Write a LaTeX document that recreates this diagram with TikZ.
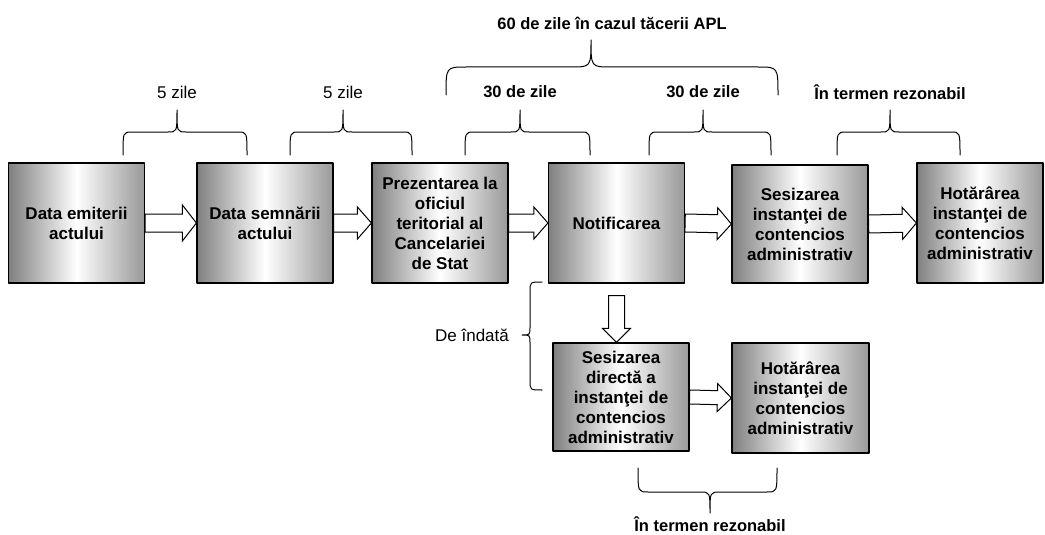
\documentclass[tikz,border=0pt]{standalone}
\usepackage{fontspec}
\setmainfont{Liberation Sans}
\usetikzlibrary{calc}
\tikzset{
  stage/.style={draw, line width=1.2pt, left color=black!50, right color=black!40, middle color=white,
    minimum width=136pt, minimum height=120pt, inner sep=2pt, align=center,
    font=\fontsize{17}{20}\selectfont\bfseries},
  brace/.style={line width=1pt},
  hollow/.style={draw, fill=white, line width=1pt, line join=miter},
  lbl/.style={font=\fontsize{16.5}{20}\selectfont\bfseries},
  plainlbl/.style={font=\fontsize{17}{20}\selectfont},
}
% hollow block arrow: start, end, shaft half width, head half width
\newcommand{\hollowarrow}[4]{%
  \coordinate (h) at ($(#2)!14pt!(#1)$);
  \draw[hollow] ($(#1)!#3pt!90:(#2)$) -- ($(h)!#3pt!90:(#2)$) -- ($(h)!#4pt!90:(#2)$) -- (#2)
    -- ($(h)!#4pt!-90:(#2)$) -- ($(h)!#3pt!-90:(#2)$) -- ($(#1)!#3pt!-90:(#2)$) -- cycle;}
% horizontal brace: x1, tip x, x2, y ends, y flat, y tip, radius
\newcommand{\hbrace}[7]{%
  \draw[brace] (#1,#4) .. controls (#1,#5) .. (#1+#7,#5) -- (#2-#7,#5) .. controls (#2,#5) .. (#2,#6)
    .. controls (#2,#5) .. (#2+#7,#5) -- (#3-#7,#5) .. controls (#3,#5) .. (#3,#4);}
\begin{document}
\begin{tikzpicture}[x=1pt, y=-1pt, line join=round, line cap=round]
\useasboundingbox (0,0) rectangle (1045,535);
% main row
\node[stage] (emit) at (76.5,223) {Data emiterii\\actului};
\node[stage] (semn) at (265,223) {Data semnării\\actului};
\node[stage] (prez) at (440,223) {Prezentarea la\\oficiul\\teritorial al\\Cancelariei\\de Stat};
\node[stage] (noti) at (616.5,223) {Notificarea};
\node[stage, minimum height=118pt] (sesi) at (800,224) {Sesizarea\\instanţei de\\contencios\\administrativ};
\node[stage, minimum width=126pt] (hota) at (980,223) {Hotărârea\\instanţei de\\contencios\\administrativ};
% lower row
\node[stage, minimum height=108pt] (dir) at (621,397) {Sesizarea\\directă a\\instanţei de\\contencios\\administrativ};
\node[stage, minimum width=137pt, minimum height=110pt] (hdir) at (800.5,398) {Hotărârea\\instanţei de\\contencios\\administrativ};

\hollowarrow{emit.east}{semn.west}{9}{18}
\hollowarrow{semn.east}{prez.west}{9}{16}
\hollowarrow{prez.east}{noti.west}{9}{16}
\hollowarrow{noti.east}{sesi.west}{9}{16}
\hollowarrow{sesi.east}{hota.west}{9}{16}
\coordinate (d0) at ($(noti.south)+(0,12)$);
\coordinate (d1) at (d0 |- dir.north);
\hollowarrow{d0}{d1}{8}{14}
\hollowarrow{dir.east}{hdir.west}{7}{14}

% braces and terms
\hbrace{123}{177}{247}{155}{132}{110}{9}
\hbrace{290}{343}{412}{155}{132}{110}{9}
\hbrace{465}{520}{590}{155}{132}{110}{9}
\hbrace{649}{703}{771}{155}{132}{110}{9}
\hbrace{837}{890}{960}{155}{132}{110}{9}
\hbrace{446}{591}{778}{95}{67}{40}{20}
\hbrace{638}{710}{777}{468}{492}{513}{10}
\draw[brace] (542,282) .. controls (530,282) .. (530,292) -- (530,327) .. controls (530,335) .. (522,335)
  .. controls (530,335) .. (530,343) -- (530,380) .. controls (530,390) .. (542,390);

\node[plainlbl] (t1) at (177,92) {5 zile};
\node[plainlbl] (t2) at (343,92) {5 zile};
\node[lbl] (t3) at (520,92) {30 de zile};
\node[lbl] (t4) at (703,92) {30 de zile};
\node[lbl] (t5) at (890,92) {În termen rezonabil};
\node[lbl] (t6) at (612,23) {60 de zile în cazul tăcerii APL};
\node[lbl] (t7) at (710,524) {În termen rezonabil};
\node[plainlbl] (t8) at (472,335) {De îndată};
\end{tikzpicture}
\end{document}
